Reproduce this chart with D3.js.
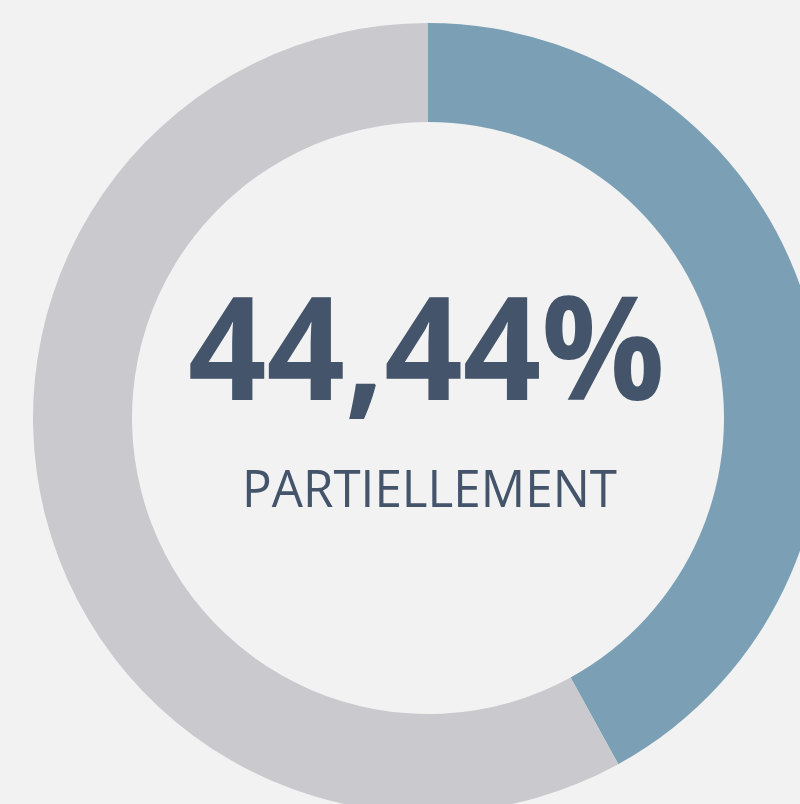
<!DOCTYPE html>
<html><head><meta charset="utf-8">
<script src="https://cdn.jsdelivr.net/npm/d3@7"></script>
<style>html,body{margin:0;padding:0;background:#f2f2f2;overflow:hidden}</style>
</head><body>
<script>
const categories = ["Partiellement", "Autres"];
const values = [42, 58];
const colors = ["#7ba0b6", "#cac9ce"];
const valueLabel = "44,44%";
const categoryLabel = "PARTIELLEMENT";

const W = 800, H = 804;
const cx = 428, cy = 418, rOuter = 395, rInner = 296;

const svg = d3.select("body").append("svg").attr("width", W).attr("height", H)
  .style("background", "#f2f2f2");
const g = svg.append("g").attr("transform", `translate(${cx},${cy})`);

const pie = d3.pie().sort(null).value(d => d)(values);
const arc = d3.arc().innerRadius(rInner).outerRadius(rOuter);
g.selectAll("path").data(pie).join("path")
  .attr("d", arc).attr("fill", (d, i) => colors[i]);

g.append("text").text(valueLabel)
  .attr("x", -1.5).attr("y", -18)
  .attr("text-anchor", "middle")
  .attr("font-family", "'Open Sans', sans-serif")
  .attr("font-weight", "bold").attr("font-size", 143)
  .attr("textLength", 477).attr("lengthAdjust", "spacingAndGlyphs")
  .attr("fill", "#44546a");

g.append("text").text(categoryLabel)
  .attr("x", 1.5).attr("y", 89)
  .attr("text-anchor", "middle")
  .attr("font-family", "'Open Sans', sans-serif")
  .attr("font-size", 52)
  .attr("textLength", 375).attr("lengthAdjust", "spacingAndGlyphs")
  .attr("fill", "#44546a");
</script>
</body></html>
